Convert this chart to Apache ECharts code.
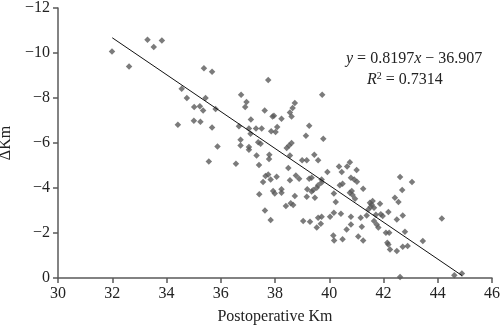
<!DOCTYPE html>
<html>
<head>
<meta charset="utf-8">
<script src="https://cdn.jsdelivr.net/npm/echarts@6/dist/echarts.min.js"></script>
<style>
  html, body { margin: 0; padding: 0; background: #fff; }
  #chart { width: 500px; height: 326px; }
</style>
</head>
<body>
<div id="chart"></div>
<script>
// Postoperative keratometry (Km) against change in Km (ΔKm), one point per eye
const postopKm = [
  31.99, 32.62, 33.30, 33.53, 33.83, 34.56, 34.75, 35.02, 35.23, 35.35,
  35.44, 35.38, 35.68, 35.81, 34.42, 35.01, 35.25, 35.68, 35.88, 35.56,
  36.56, 37.75, 36.75, 36.95, 36.90, 37.62, 37.91, 37.11, 36.67, 37.04,
  37.30, 37.51, 37.86, 37.10, 36.73, 37.38, 37.47, 36.73, 37.04, 37.04,
  37.32, 37.79, 37.78, 37.41, 39.74, 38.73, 38.65, 38.55, 38.61, 37.96,
  38.24, 38.08, 38.02, 39.26, 39.14, 39.78, 38.61, 38.52, 38.43, 38.55,
  39.00, 39.17, 39.45, 39.59, 38.49, 40.36, 40.66, 40.76, 37.42, 37.63,
  37.84, 37.56, 37.65, 37.75, 37.84, 38.06, 37.93, 37.99, 38.24, 38.24,
  38.40, 38.58, 38.67, 38.55, 38.77, 38.89, 38.73, 39.04, 39.29, 39.17,
  39.19, 39.35, 39.26, 39.35, 39.41, 39.47, 39.54, 39.59, 39.72, 39.72,
  39.69, 39.54, 39.59, 39.72, 39.93, 40.03, 40.17, 40.24, 40.17, 40.39,
  40.49, 40.43, 40.15, 40.18, 40.49, 40.64, 40.80, 40.80, 40.76, 40.83,
  40.86, 40.95, 40.92, 41.01, 40.80, 41.07, 41.25, 41.20, 41.16, 41.25,
  41.38, 41.44, 41.50, 41.56, 41.60, 41.65, 41.53, 41.65, 41.75, 41.81,
  41.87, 41.90, 41.97, 42.09, 42.21, 42.18, 42.14, 42.18, 42.24, 42.42,
  42.49, 42.49, 42.61, 42.55, 42.69, 42.71, 42.71, 42.79, 42.89, 43.05,
  43.45, 44.15, 42.61, 44.61, 44.89, 40.46, 41.72, 41.02
];
const deltaKm = [
  -10.07, -9.40, -10.59, -10.27, -10.56, -8.41, -8.00, -7.60, -7.63, -7.45,
  -8.00, -9.32, -9.17, -7.51, -6.81, -6.99, -6.95, -6.69, -5.85, -5.18,
  -5.08, -8.80, -8.15, -7.82, -7.60, -7.45, -7.18, -7.04, -6.74, -6.64,
  -6.64, -6.64, -6.52, -6.41, -6.15, -6.03, -5.97, -5.89, -5.82, -5.70,
  -5.45, -5.48, -5.29, -5.02, -8.15, -7.78, -7.56, -7.36, -7.18, -7.21,
  -7.08, -6.71, -6.49, -6.77, -6.32, -6.19, -6.00, -5.89, -5.78, -5.45,
  -5.23, -5.23, -5.48, -5.23, -4.89, -4.96, -4.96, -5.14, -3.72, -3.00,
  -2.58, -4.27, -4.53, -4.60, -4.38, -4.50, -3.87, -3.76, -3.94, -3.79,
  -3.20, -3.32, -3.24, -4.34, -4.56, -4.41, -3.64, -2.53, -2.50, -3.61,
  -3.94, -3.84, -4.41, -4.46, -3.91, -3.57, -4.01, -4.12, -4.38, -4.24,
  -2.41, -2.24, -2.68, -2.72, -4.71, -2.72, -3.76, -3.38, -2.90, -4.12,
  -4.19, -2.86, -1.89, -1.67, -1.72, -2.16, -2.38, -2.72, -3.79, -3.87,
  -3.69, -3.52, -4.38, -4.80, -4.46, -1.84, -1.67, -2.28, -2.68, -3.97,
  -2.78, -3.05, -3.35, -3.27, -3.42, -3.12, -3.17, -2.53, -2.38, -2.24,
  -3.30, -2.83, -2.76, -2.01, -2.01, -2.93, -1.57, -1.49, -1.27, -3.57,
  -1.20, -2.60, -4.49, -3.38, -3.91, -2.78, -1.39, -2.06, -1.42, -4.27,
  -1.64, -2.64, -0.05, -0.12, -0.20, -4.71, -2.81, -4.28
];

// Linear fit reported on the chart
const fitSlope = 0.8197;
const fitIntercept = -36.907;
const fitRange = [32, 44.9];

const xTicks = { min: 30, max: 46, step: 2 };
const yTicks = { min: -12, max: 0, step: 2 };

const serif = "'Liberation Serif', 'Times New Roman', serif";
const minus = v => (v < 0 ? '\u2212' + Math.abs(v) : String(v));

const points = postopKm.map((x, i) => [x, deltaKm[i]]);
const fitLine = fitRange.map(x => [x, fitSlope * x + fitIntercept]);

const chart = echarts.init(document.getElementById('chart'), null, { renderer: 'canvas' });

const axisCommon = {
  axisLine: { show: true, lineStyle: { color: '#5a5a5a', width: 1.5 } },
  axisTick: { show: true, length: 5, lineStyle: { color: '#5a5a5a', width: 1.5 } },
  splitLine: { show: false },
  axisLabel: { color: '#222', fontFamily: serif, fontSize: 16 }
};

chart.setOption({
  animation: false,
  backgroundColor: '#fff',
  grid: { left: 58, right: 8, top: 8, bottom: 48, containLabel: false, outerBoundsMode: 'none' },
  xAxis: Object.assign({}, axisCommon, {
    type: 'value',
    min: xTicks.min, max: xTicks.max, interval: xTicks.step,
    name: 'Postoperative Km',
    nameLocation: 'middle',
    nameGap: 31,
    nameTextStyle: { color: '#222', fontFamily: serif, fontSize: 16 },
    axisLabel: Object.assign({}, axisCommon.axisLabel, { margin: 8 })
  }),
  yAxis: Object.assign({}, axisCommon, {
    type: 'value',
    inverse: true,
    min: yTicks.min, max: yTicks.max, interval: yTicks.step,
    name: '\u0394Km',
    nameLocation: 'middle',
    nameGap: 35,
    nameRotate: 90,
    nameTextStyle: { color: '#222', fontFamily: serif, fontSize: 16 },
    axisLabel: Object.assign({}, axisCommon.axisLabel, { margin: 8, formatter: minus })
  }),
  series: [
    {
      type: 'scatter',
      data: points,
      symbol: 'diamond',
      symbolSize: 6.5,
      itemStyle: { color: '#5a5a5a' },
      clip: false,
      z: 2
    },
    {
      type: 'line',
      data: fitLine,
      symbol: 'none',
      lineStyle: { color: '#111', width: 1 },
      z: 3
    }
  ],
  graphic: [
    {
      type: 'text',
      left: 346,
      top: 51,
      style: {
        text: '{i|y} = 0.8197{i|x} \u2212 36.907',
        fill: '#222',
        font: '16px ' + serif,
        rich: {
          i: { fontStyle: 'italic', fontFamily: serif, fontSize: 16, fill: '#222' }
        }
      }
    },
    {
      type: 'text',
      left: 367,
      top: 71,
      style: {
        text: '{i|R}{s|2} = 0.7314',
        fill: '#222',
        font: '16px ' + serif,
        rich: {
          i: { fontStyle: 'italic', fontFamily: serif, fontSize: 16, fill: '#222' },
          s: { fontFamily: serif, fontSize: 10, fill: '#222', verticalAlign: 'top', padding: [0, 0, 7, 0] }
        }
      }
    }
  ]
});
</script>
</body>
</html>
